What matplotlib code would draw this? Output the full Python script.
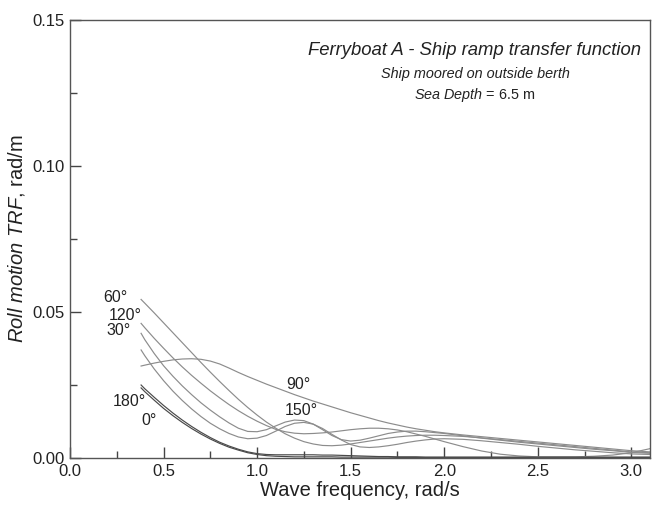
import matplotlib
matplotlib.use("Agg")
import matplotlib.pyplot as plt
from matplotlib.ticker import MultipleLocator, FormatStrFormatter

plt.rcParams['font.family'] = ['Liberation Sans', 'DejaVu Sans']
plt.rcParams['mathtext.fontset'] = 'custom'
plt.rcParams['mathtext.rm'] = 'Liberation Sans'
plt.rcParams['mathtext.it'] = 'Liberation Sans:italic'

# wave frequency grid (rad/s)
freq = [0.38, 0.40, 0.45, 0.50, 0.55, 0.60, 0.65, 0.70, 0.75, 0.80, 0.85, 0.90, 0.95,
        1.00, 1.05, 1.10, 1.15, 1.20, 1.25, 1.30, 1.35, 1.40, 1.45, 1.50, 1.55, 1.60,
        1.65, 1.70, 1.75, 1.80, 1.85, 1.90, 1.95, 2.00, 2.1, 2.2, 2.3, 2.4, 2.5, 2.6,
        2.7, 2.8, 2.9, 3.0, 3.1]

trf_0 = [.0240, .0227, .0198, .0170, .0145, .0122, .0101, .0082, .0065, .0050, .0037, .0027,
         .0018, .0012, .0008, .0006, .0005, .0004,
         .0004, .0004, .0004, .0004, .0003, .0003, .0003, .0003, .0003, .0003, .0002, .0002,
         .0002, .0002, .0002, .0002,
         .0002, .0002, .0002, .0002, .0002, .0002, .0002, .0002, .0002, .0002, .0002]
trf_30 = [.0427, .0405, .0358, .0316, .0280, .0247, .0217, .0189, .0164, .0141, .0120, .0102,
          .0091, .0090, .0097, .0110, .0123, .0130,
          .0128, .0116, .0097, .0077, .0063, .0058, .0061, .0068, .0076, .0084, .0089, .0092,
          .0092, .0090, .0087, .0084,
          .0076, .0068, .0061, .0054, .0048, .0042, .0036, .0030, .0025, .0019, .0016]
trf_60 = [.0543, .0530, .0497, .0463, .0429, .0395, .0361, .0327, .0294, .0262, .0231, .0201,
          .0173, .0147, .0123, .0102, .0083, .0068,
          .0056, .0048, .0043, .0042, .0044, .0048, .0053, .0058, .0063, .0068, .0072, .0075,
          .0077, .0078, .0078, .0077,
          .0074, .0069, .0063, .0057, .0051, .0045, .0039, .0033, .0027, .0021, .0018]
trf_90 = [.0315, .0318, .0325, .0331, .0336, .0339, .0340, .0338, .0332, .0322, .0308, .0293,
          .0279, .0266, .0253, .0241, .0229, .0217,
          .0206, .0195, .0185, .0175, .0165, .0155, .0146, .0137, .0128, .0120, .0113, .0106,
          .0100, .0095, .0090, .0086,
          .0079, .0073, .0067, .0061, .0055, .0049, .0043, .0037, .0031, .0025, .0021]
trf_120 = [.0461, .0446, .0410, .0376, .0343, .0312, .0283, .0256, .0230, .0206, .0183, .0162,
           .0143, .0126, .0111, .0098, .0090, .0085,
           .0083, .0084, .0086, .0089, .0093, .0097, .0100, .0102, .0102, .0100, .0096, .0090,
           .0082, .0074, .0065, .0056,
           .0039, .0024, .0013, .0007, .0004, .0004, .0004, .0006, .0010, .0018, .0032]
trf_150 = [.0370, .0350, .0305, .0265, .0229, .0197, .0168, .0142, .0119, .0100, .0084, .0072,
           .0066, .0068, .0077, .0092, .0108, .0119,
           .0122, .0116, .0101, .0081, .0062, .0046, .0038, .0036, .0038, .0042, .0047, .0053,
           .0058, .0062, .0065, .0066,
           .0064, .0059, .0053, .0047, .0040, .0034, .0028, .0023, .0018, .0014, .0012]
trf_180 = [.0250, .0237, .0208, .0180, .0154, .0130, .0108, .0088, .0070, .0054, .0041, .0030,
           .0021, .0015, .0012, .0011, .0011, .0011,
           .0011, .0011, .0010, .0010, .0009, .0008, .0007, .0006, .0005, .0005, .0004, .0004,
           .0004, .0003, .0003, .0003,
           .0003, .0003, .0003, .0003, .0003, .0003, .0003, .0003, .0003, .0003, .0003]

series = [("0°", trf_0), ("30°", trf_30), ("60°", trf_60), ("90°", trf_90),
          ("120°", trf_120), ("150°", trf_150), ("180°", trf_180)]

# label positions (data coords)
label_pos = {"60°": (0.245, 0.0548), "120°": (0.296, 0.0487), "30°": (0.262, 0.0436),
             "180°": (0.320, 0.0192), "0°": (0.424, 0.0127),
             "90°": (1.223, 0.0252), "150°": (1.236, 0.0164)}

fig = plt.figure(figsize=(6.53, 5.07), dpi=100)
ax = fig.add_axes([70/653, 49/507, 580/653, 438/507])

for name, vals in series:
    col = '#4a4a4a' if name in ("0°", "180°") else '#8c8c8c'
    ax.plot(freq, vals, color=col, lw=0.85)

for name, (lx, ly) in label_pos.items():
    ax.text(lx, ly, name, fontsize=11.5, ha='center', va='center', color='#222222')

ax.set_xlim(0, 3.1)
ax.set_ylim(0, 0.15)
ax.xaxis.set_major_locator(MultipleLocator(0.5))
ax.xaxis.set_minor_locator(MultipleLocator(0.25))
ax.yaxis.set_major_locator(MultipleLocator(0.05))
ax.yaxis.set_minor_locator(MultipleLocator(0.025))
ax.xaxis.set_major_formatter(FormatStrFormatter('%.1f'))
ax.yaxis.set_major_formatter(FormatStrFormatter('%.2f'))
ax.tick_params(which='both', direction='in', colors='#444444', labelcolor='#222222',
               labelsize=12, width=1)
ax.tick_params(which='major', length=8, pad=4)
ax.tick_params(which='minor', length=5)
for s in ax.spines.values():
    s.set_color('#555555')
    s.set_linewidth(1)

ax.set_xlabel('Wave frequency, rad/s', fontsize=14.5, color='#222222', labelpad=2)
ax.set_ylabel(r'$\it{Roll\ motion\ TRF}$, rad/m', fontsize=14.5, color='#222222', labelpad=4)

fig.text(475/653, 1 - 50/507, 'Ferryboat A - Ship ramp transfer function', fontsize=13.3,
         style='italic', ha='center', va='center', color='#222222')
fig.text(475/653, 1 - 74/507, 'Ship moored on outside berth', fontsize=10.4,
         style='italic', ha='center', va='center', color='#222222')
fig.text(475/653, 1 - 95/507, r'$\it{Sea\ Depth}$ = 6.5 m', fontsize=10.4,
         ha='center', va='center', color='#222222')

fig.savefig('out.png', dpi=100)
